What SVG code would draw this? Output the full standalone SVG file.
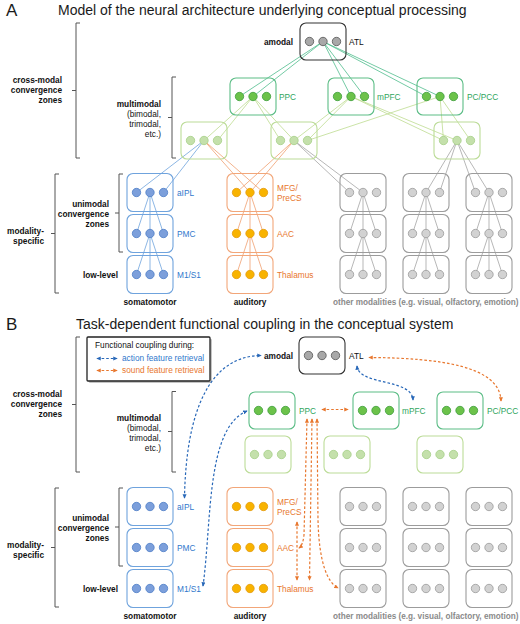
<svg xmlns="http://www.w3.org/2000/svg" width="520" height="624" viewBox="0 0 520 624">
<style>
text{font-family:"Liberation Sans",Arial,Helvetica,sans-serif}
.ttl{font-size:14px;fill:#1a1a1a}
.pl{font-size:17px;fill:#1a1a1a}
.b{font-size:8.3px;font-weight:bold;fill:#111}
.r{font-size:8.3px;fill:#111}
.rt{text-anchor:end}
.lb{font-size:8.3px;fill:#2f78cc}
.lo{font-size:8.3px;fill:#e8772e}
.lg{font-size:8.3px;fill:#2ea55c}
.lk{font-size:8.3px;fill:#111}
.gray{font-size:8.2px;font-weight:bold;fill:#8a8a8a}
.br{fill:none;stroke:#555;stroke-width:1}
rect{fill:none;stroke-width:1.1}
.kA{stroke:#333}
.kM{stroke:#5cbd86}
.kL{stroke:#bcdc98}
.kS{stroke:#6fa3dd}
.kO{stroke:#f2a679}
.kG{stroke:#9c9c9c}
circle{stroke-width:0.8}
.dA{fill:#a8a8a8;stroke:#555}
.dM{fill:#6cc24a;stroke:#3f9e3c}
.dL{fill:#c4e0ab;stroke:#a6cf88}
.dS{fill:#7c9fdb;stroke:#4f7fc7}
.dO{fill:#f8b300;stroke:#e39a10}
.dG{fill:#d2d2d2;stroke:#9a9a9a}
.cA{stroke:#4fbd8d;stroke-width:0.8;fill:none}
.cL{stroke:#bedc90;stroke-width:0.8;fill:none}
.cS{stroke:#6fa3dd;stroke-width:0.8;fill:none}
.cO{stroke:#f0a070;stroke-width:0.8;fill:none}
.cG{stroke:#a4a4a4;stroke-width:0.8;fill:none}
.db{stroke:#2767b8;stroke-width:1.2;stroke-dasharray:2.6 2;fill:none;marker-start:url(#mb);marker-end:url(#mb)}
.do{stroke:#e8772e;stroke-width:1.2;stroke-dasharray:2.6 2;fill:none;marker-start:url(#mo);marker-end:url(#mo)}
</style>
<defs>
<marker id="mb" viewBox="0 0 6 6" refX="5" refY="3" markerWidth="4.5" markerHeight="4.5" markerUnits="userSpaceOnUse" orient="auto-start-reverse"><path d="M0,0.3 L6,3 L0,5.7z" fill="#2767b8"/></marker>
<marker id="mo" viewBox="0 0 6 6" refX="5" refY="3" markerWidth="4.5" markerHeight="4.5" markerUnits="userSpaceOnUse" orient="auto-start-reverse"><path d="M0,0.3 L6,3 L0,5.7z" fill="#e8772e"/></marker>
</defs>

<!-- ================= PANEL A ================= -->
<g id="titleA">
<text x="6" y="16" class="pl">A</text>
<text x="58" y="15" class="ttl">Model of the neural architecture underlying conceptual processing</text>
</g>

<g id="bracesA">
<path class="br" d="M80,23 H76 V158 H80 M76,90.5 H72"/>
<path class="br" d="M176,77 H172 V158 H176 M172,117.5 H168"/>
<path class="br" d="M59,174 H55 V293 H59 M55,233.5 H51"/>
<path class="br" d="M123,174 H119 V252 H123 M119,213 H115"/>
<text class="b rt" x="62" y="83">cross-modal</text>
<text class="b rt" x="62" y="93">convergence</text>
<text class="b rt" x="62" y="103">zones</text>
<text class="b rt" x="161" y="107">multimodal</text>
<text class="r rt" x="161" y="117">(bimodal,</text>
<text class="r rt" x="161" y="127">trimodal,</text>
<text class="r rt" x="161" y="137">etc.)</text>
<text class="b rt" x="44" y="234">modality-</text>
<text class="b rt" x="44" y="244">specific</text>
<text class="b rt" x="109" y="207">unimodal</text>
<text class="b rt" x="109" y="217">convergence</text>
<text class="b rt" x="109" y="227">zones</text>
<text class="b rt" x="118" y="278">low-level</text>
<text class="b" x="150" y="305" text-anchor="middle">somatomotor</text>
<text class="b" x="250" y="305" text-anchor="middle">auditory</text>
<text class="gray" x="333" y="305">other modalities (e.g. visual, olfactory, emotion)</text>
</g>

<g id="connectorsA">
<path class="cA" d="M323,41.5 L239.5,96.5 M323,41.5 L253,96.5 M323,41.5 L351,96.5 M323,41.5 L364.5,96.5 M323,41.5 L426.5,96.5 M323,41.5 L440,96.5"/>
<path class="cL" d="M253,96.5 L204,140.5 M253,96.5 L217.5,140.5 M253,96.5 L280.5,140.5 M253,96.5 L294,140.5 M351,96.5 L294,140.5 M351,96.5 L307.5,140.5 M351,96.5 L443.5,140.5 M351,96.5 L457,140.5 M440,96.5 L307.5,140.5 M440,96.5 L443.5,140.5 M440,96.5 L470.5,140.5"/>
<path class="cS" d="M204,140.5 L136.5,192.5 M204,140.5 L163.5,192.5 M150,192.5 L136.5,233.5 M150,192.5 L150,233.5 M150,192.5 L163.5,233.5 M150,233.5 L136.5,274.5 M150,233.5 L150,274.5 M150,233.5 L163.5,274.5"/>
<path class="cO" d="M204,140.5 L250,192.5 M204,140.5 L263.5,192.5 M294,140.5 L236.5,192.5 M294,140.5 L250,192.5 M250,192.5 L236.5,233.5 M250,192.5 L250,233.5 M250,192.5 L263.5,233.5 M250,233.5 L236.5,274.5 M250,233.5 L250,274.5 M250,233.5 L263.5,274.5"/>
<path class="cG" d="M294,140.5 L349.5,192.5 M294,140.5 L363,192.5 M457,140.5 L426,192.5 M457,140.5 L439.5,192.5 M457,140.5 L475.5,192.5 M457,140.5 L489,192.5
M363,192.5 L349.5,233.5 M363,192.5 L363,233.5 M363,192.5 L376.5,233.5 M363,233.5 L349.5,274.5 M363,233.5 L363,274.5 M363,233.5 L376.5,274.5
M426,192.5 L412.5,233.5 M426,192.5 L426,233.5 M426,192.5 L439.5,233.5 M426,233.5 L412.5,274.5 M426,233.5 L426,274.5 M426,233.5 L439.5,274.5
M489,192.5 L475.5,233.5 M489,192.5 L489,233.5 M489,192.5 L502.5,233.5 M489,233.5 L475.5,274.5 M489,233.5 L489,274.5 M489,233.5 L502.5,274.5"/>
</g>

<g id="A-ATL"><rect class="kA" x="300" y="23" width="46" height="37" rx="6"/><circle class="dA" cx="309.5" cy="41.5" r="4.2"/><circle class="dA" cx="323" cy="41.5" r="4.2"/><circle class="dA" cx="336.5" cy="41.5" r="4.2"/><text class="b rt" x="293" y="45">amodal</text><text class="lk" x="349" y="45">ATL</text></g>
<g id="A-PPC"><rect class="kM" x="230" y="78" width="46" height="37" rx="6"/><circle class="dM" cx="239.5" cy="96.5" r="4.2"/><circle class="dM" cx="253" cy="96.5" r="4.2"/><circle class="dM" cx="266.5" cy="96.5" r="4.2"/><text class="lg" x="279" y="100">PPC</text></g>
<g id="A-mPFC"><rect class="kM" x="328" y="78" width="46" height="37" rx="6"/><circle class="dM" cx="337.5" cy="96.5" r="4.2"/><circle class="dM" cx="351" cy="96.5" r="4.2"/><circle class="dM" cx="364.5" cy="96.5" r="4.2"/><text class="lg" x="377" y="100">mPFC</text></g>
<g id="A-PCPCC"><rect class="kM" x="417" y="78" width="46" height="37" rx="6"/><circle class="dM" cx="426.5" cy="96.5" r="4.2"/><circle class="dM" cx="440" cy="96.5" r="4.2"/><circle class="dM" cx="453.5" cy="96.5" r="4.2"/><text class="lg" x="467" y="100">PC/PCC</text></g>
<g id="A-mm1"><rect class="kL" x="181" y="122" width="46" height="37" rx="6"/><circle class="dL" cx="190.5" cy="140.5" r="4.2"/><circle class="dL" cx="204" cy="140.5" r="4.2"/><circle class="dL" cx="217.5" cy="140.5" r="4.2"/></g>
<g id="A-mm2"><rect class="kL" x="271" y="122" width="46" height="37" rx="6"/><circle class="dL" cx="280.5" cy="140.5" r="4.2"/><circle class="dL" cx="294" cy="140.5" r="4.2"/><circle class="dL" cx="307.5" cy="140.5" r="4.2"/></g>
<g id="A-mm3"><rect class="kL" x="434" y="122" width="46" height="37" rx="6"/><circle class="dL" cx="443.5" cy="140.5" r="4.2"/><circle class="dL" cx="457" cy="140.5" r="4.2"/><circle class="dL" cx="470.5" cy="140.5" r="4.2"/></g>

<g id="A-aIPL"><rect class="kS" x="127" y="173.5" width="46" height="38" rx="6"/><circle class="dS" cx="136.5" cy="192.5" r="4.2"/><circle class="dS" cx="150" cy="192.5" r="4.2"/><circle class="dS" cx="163.5" cy="192.5" r="4.2"/><text class="lb" x="177" y="196">aIPL</text></g>
<g id="A-PMC"><rect class="kS" x="127" y="214.5" width="46" height="38" rx="6"/><circle class="dS" cx="136.5" cy="233.5" r="4.2"/><circle class="dS" cx="150" cy="233.5" r="4.2"/><circle class="dS" cx="163.5" cy="233.5" r="4.2"/><text class="lb" x="177" y="237">PMC</text></g>
<g id="A-M1S1"><rect class="kS" x="127" y="255.5" width="46" height="38" rx="6"/><circle class="dS" cx="136.5" cy="274.5" r="4.2"/><circle class="dS" cx="150" cy="274.5" r="4.2"/><circle class="dS" cx="163.5" cy="274.5" r="4.2"/><text class="lb" x="177" y="278">M1/S1</text></g>
<g id="A-MFG"><rect class="kO" x="227" y="173.5" width="46" height="38" rx="6"/><circle class="dO" cx="236.5" cy="192.5" r="4.2"/><circle class="dO" cx="250" cy="192.5" r="4.2"/><circle class="dO" cx="263.5" cy="192.5" r="4.2"/><text class="lo" x="277" y="191">MFG/</text><text class="lo" x="277" y="201">PreCS</text></g>
<g id="A-AAC"><rect class="kO" x="227" y="214.5" width="46" height="38" rx="6"/><circle class="dO" cx="236.5" cy="233.5" r="4.2"/><circle class="dO" cx="250" cy="233.5" r="4.2"/><circle class="dO" cx="263.5" cy="233.5" r="4.2"/><text class="lo" x="277" y="237">AAC</text></g>
<g id="A-Thal"><rect class="kO" x="227" y="255.5" width="46" height="38" rx="6"/><circle class="dO" cx="236.5" cy="274.5" r="4.2"/><circle class="dO" cx="250" cy="274.5" r="4.2"/><circle class="dO" cx="263.5" cy="274.5" r="4.2"/><text class="lo" x="277" y="278">Thalamus</text></g>

<g id="A-other1">
<rect class="kG" x="340" y="173.5" width="46" height="38" rx="6"/><rect class="kG" x="340" y="214.5" width="46" height="38" rx="6"/><rect class="kG" x="340" y="255.5" width="46" height="38" rx="6"/>
<circle class="dG" cx="349.5" cy="192.5" r="4.2"/><circle class="dG" cx="363" cy="192.5" r="4.2"/><circle class="dG" cx="376.5" cy="192.5" r="4.2"/>
<circle class="dG" cx="349.5" cy="233.5" r="4.2"/><circle class="dG" cx="363" cy="233.5" r="4.2"/><circle class="dG" cx="376.5" cy="233.5" r="4.2"/>
<circle class="dG" cx="349.5" cy="274.5" r="4.2"/><circle class="dG" cx="363" cy="274.5" r="4.2"/><circle class="dG" cx="376.5" cy="274.5" r="4.2"/>
</g>
<g id="A-other2">
<rect class="kG" x="403" y="173.5" width="46" height="38" rx="6"/><rect class="kG" x="403" y="214.5" width="46" height="38" rx="6"/><rect class="kG" x="403" y="255.5" width="46" height="38" rx="6"/>
<circle class="dG" cx="412.5" cy="192.5" r="4.2"/><circle class="dG" cx="426" cy="192.5" r="4.2"/><circle class="dG" cx="439.5" cy="192.5" r="4.2"/>
<circle class="dG" cx="412.5" cy="233.5" r="4.2"/><circle class="dG" cx="426" cy="233.5" r="4.2"/><circle class="dG" cx="439.5" cy="233.5" r="4.2"/>
<circle class="dG" cx="412.5" cy="274.5" r="4.2"/><circle class="dG" cx="426" cy="274.5" r="4.2"/><circle class="dG" cx="439.5" cy="274.5" r="4.2"/>
</g>
<g id="A-other3">
<rect class="kG" x="466" y="173.5" width="46" height="38" rx="6"/><rect class="kG" x="466" y="214.5" width="46" height="38" rx="6"/><rect class="kG" x="466" y="255.5" width="46" height="38" rx="6"/>
<circle class="dG" cx="475.5" cy="192.5" r="4.2"/><circle class="dG" cx="489" cy="192.5" r="4.2"/><circle class="dG" cx="502.5" cy="192.5" r="4.2"/>
<circle class="dG" cx="475.5" cy="233.5" r="4.2"/><circle class="dG" cx="489" cy="233.5" r="4.2"/><circle class="dG" cx="502.5" cy="233.5" r="4.2"/>
<circle class="dG" cx="475.5" cy="274.5" r="4.2"/><circle class="dG" cx="489" cy="274.5" r="4.2"/><circle class="dG" cx="502.5" cy="274.5" r="4.2"/>
</g>

<!-- ================= PANEL B ================= -->
<g id="titleB">
<text x="6" y="330" class="pl">B</text>
<text x="76" y="329" class="ttl">Task-dependent functional coupling in the conceptual system</text>
</g>

<g id="bracesB">
<path class="br" d="M80,337 H76 V472 H80 M76,404.5 H72"/>
<path class="br" d="M176,391.5 H172 V472 H176 M172,431.5 H168"/>
<path class="br" d="M59,488 H55 V607 H59 M55,547.5 H51"/>
<path class="br" d="M123,488 H119 V566 H123 M119,527 H115"/>
<text class="b rt" x="62" y="397">cross-modal</text>
<text class="b rt" x="62" y="407">convergence</text>
<text class="b rt" x="62" y="417">zones</text>
<text class="b rt" x="161" y="421">multimodal</text>
<text class="r rt" x="161" y="431">(bimodal,</text>
<text class="r rt" x="161" y="441">trimodal,</text>
<text class="r rt" x="161" y="451">etc.)</text>
<text class="b rt" x="44" y="548">modality-</text>
<text class="b rt" x="44" y="558">specific</text>
<text class="b rt" x="109" y="521">unimodal</text>
<text class="b rt" x="109" y="531">convergence</text>
<text class="b rt" x="109" y="541">zones</text>
<text class="b rt" x="118" y="592">low-level</text>
<text class="b" x="150" y="619" text-anchor="middle">somatomotor</text>
<text class="b" x="250" y="619" text-anchor="middle">auditory</text>
<text class="gray" x="333" y="619">other modalities (e.g. visual, olfactory, emotion)</text>
</g>

<g id="legend">
<rect x="89" y="339" width="123" height="44" rx="1" style="fill:#c4c4c4;stroke:none"/>
<rect x="87" y="337" width="123" height="44" rx="1" style="fill:#fff;stroke:#222;stroke-width:1.3"/>
<text class="r" x="95" y="348">Functional coupling during:</text>
<path class="db" d="M97,358.5 L117,358.5"/>
<text class="lb" x="122" y="361">action feature retrieval</text>
<path class="do" d="M97,370.5 L117,370.5"/>
<text class="lo" x="122" y="373">sound feature retrieval</text>
</g>

<g id="connectorsB">
<path class="db" d="M184.5,498 C186,410 210,356 261,355.5"/>
<path class="db" d="M203,586 C212,520 206,428 247,411"/>
<path class="db" d="M357,366 C359,386 412,378 413,400"/>
<path class="do" d="M369,357.5 C440,358 500,366 501,401"/>
<path class="do" d="M322,409.5 L348,409.5"/>
<path class="do" d="M307,419 L304,535 Q303,545 299,548"/>
<path class="do" d="M312,419 L309.5,580"/>
<path class="do" d="M317,419 L318,520 C319,562 327,582 338,588"/>
<path class="do" d="M297,522 L297,580"/>
</g>

<g id="B-ATL"><rect class="kA" x="299" y="337" width="46" height="37" rx="6"/><circle class="dA" cx="308.5" cy="355.5" r="4.2"/><circle class="dA" cx="322" cy="355.5" r="4.2"/><circle class="dA" cx="335.5" cy="355.5" r="4.2"/><text class="b rt" x="293" y="359">amodal</text><text class="lk" x="349" y="359">ATL</text></g>
<g id="B-PPC"><rect class="kM" x="249" y="392" width="46" height="37" rx="6"/><circle class="dM" cx="258.5" cy="410.5" r="4.2"/><circle class="dM" cx="272" cy="410.5" r="4.2"/><circle class="dM" cx="285.5" cy="410.5" r="4.2"/><text class="lg" x="299" y="414">PPC</text></g>
<g id="B-mPFC"><rect class="kM" x="353" y="392" width="46" height="37" rx="6"/><circle class="dM" cx="362.5" cy="410.5" r="4.2"/><circle class="dM" cx="376" cy="410.5" r="4.2"/><circle class="dM" cx="389.5" cy="410.5" r="4.2"/><text class="lg" x="402" y="414">mPFC</text></g>
<g id="B-PCPCC"><rect class="kM" x="437" y="392" width="46" height="37" rx="6"/><circle class="dM" cx="446.5" cy="410.5" r="4.2"/><circle class="dM" cx="460" cy="410.5" r="4.2"/><circle class="dM" cx="473.5" cy="410.5" r="4.2"/><text class="lg" x="487" y="414">PC/PCC</text></g>
<g id="B-mm1"><rect class="kL" x="245" y="436" width="46" height="37" rx="6"/><circle class="dL" cx="254.5" cy="454.5" r="4.2"/><circle class="dL" cx="268" cy="454.5" r="4.2"/><circle class="dL" cx="281.5" cy="454.5" r="4.2"/></g>
<g id="B-mm2"><rect class="kL" x="324" y="436" width="46" height="37" rx="6"/><circle class="dL" cx="333.5" cy="454.5" r="4.2"/><circle class="dL" cx="347" cy="454.5" r="4.2"/><circle class="dL" cx="360.5" cy="454.5" r="4.2"/></g>
<g id="B-mm3"><rect class="kL" x="417" y="436" width="46" height="37" rx="6"/><circle class="dL" cx="426.5" cy="454.5" r="4.2"/><circle class="dL" cx="440" cy="454.5" r="4.2"/><circle class="dL" cx="453.5" cy="454.5" r="4.2"/></g>

<g id="B-aIPL"><rect class="kS" x="127" y="487.5" width="46" height="38" rx="6"/><circle class="dS" cx="136.5" cy="506.5" r="4.2"/><circle class="dS" cx="150" cy="506.5" r="4.2"/><circle class="dS" cx="163.5" cy="506.5" r="4.2"/><text class="lb" x="177" y="510">aIPL</text></g>
<g id="B-PMC"><rect class="kS" x="127" y="528.5" width="46" height="38" rx="6"/><circle class="dS" cx="136.5" cy="547.5" r="4.2"/><circle class="dS" cx="150" cy="547.5" r="4.2"/><circle class="dS" cx="163.5" cy="547.5" r="4.2"/><text class="lb" x="177" y="551">PMC</text></g>
<g id="B-M1S1"><rect class="kS" x="127" y="569.5" width="46" height="38" rx="6"/><circle class="dS" cx="136.5" cy="588.5" r="4.2"/><circle class="dS" cx="150" cy="588.5" r="4.2"/><circle class="dS" cx="163.5" cy="588.5" r="4.2"/><text class="lb" x="177" y="592">M1/S1</text></g>
<g id="B-MFG"><rect class="kO" x="227" y="487.5" width="46" height="38" rx="6"/><circle class="dO" cx="236.5" cy="506.5" r="4.2"/><circle class="dO" cx="250" cy="506.5" r="4.2"/><circle class="dO" cx="263.5" cy="506.5" r="4.2"/><text class="lo" x="277" y="505">MFG/</text><text class="lo" x="277" y="515">PreCS</text></g>
<g id="B-AAC"><rect class="kO" x="227" y="528.5" width="46" height="38" rx="6"/><circle class="dO" cx="236.5" cy="547.5" r="4.2"/><circle class="dO" cx="250" cy="547.5" r="4.2"/><circle class="dO" cx="263.5" cy="547.5" r="4.2"/><text class="lo" x="277" y="551">AAC</text></g>
<g id="B-Thal"><rect class="kO" x="227" y="569.5" width="46" height="38" rx="6"/><circle class="dO" cx="236.5" cy="588.5" r="4.2"/><circle class="dO" cx="250" cy="588.5" r="4.2"/><circle class="dO" cx="263.5" cy="588.5" r="4.2"/><text class="lo" x="277" y="592">Thalamus</text></g>

<g id="B-other1">
<rect class="kG" x="340" y="487.5" width="46" height="38" rx="6"/><rect class="kG" x="340" y="528.5" width="46" height="38" rx="6"/><rect class="kG" x="340" y="569.5" width="46" height="38" rx="6"/>
<circle class="dG" cx="349.5" cy="506.5" r="4.2"/><circle class="dG" cx="363" cy="506.5" r="4.2"/><circle class="dG" cx="376.5" cy="506.5" r="4.2"/>
<circle class="dG" cx="349.5" cy="547.5" r="4.2"/><circle class="dG" cx="363" cy="547.5" r="4.2"/><circle class="dG" cx="376.5" cy="547.5" r="4.2"/>
<circle class="dG" cx="349.5" cy="588.5" r="4.2"/><circle class="dG" cx="363" cy="588.5" r="4.2"/><circle class="dG" cx="376.5" cy="588.5" r="4.2"/>
</g>
<g id="B-other2">
<rect class="kG" x="403" y="487.5" width="46" height="38" rx="6"/><rect class="kG" x="403" y="528.5" width="46" height="38" rx="6"/><rect class="kG" x="403" y="569.5" width="46" height="38" rx="6"/>
<circle class="dG" cx="412.5" cy="506.5" r="4.2"/><circle class="dG" cx="426" cy="506.5" r="4.2"/><circle class="dG" cx="439.5" cy="506.5" r="4.2"/>
<circle class="dG" cx="412.5" cy="547.5" r="4.2"/><circle class="dG" cx="426" cy="547.5" r="4.2"/><circle class="dG" cx="439.5" cy="547.5" r="4.2"/>
<circle class="dG" cx="412.5" cy="588.5" r="4.2"/><circle class="dG" cx="426" cy="588.5" r="4.2"/><circle class="dG" cx="439.5" cy="588.5" r="4.2"/>
</g>
<g id="B-other3">
<rect class="kG" x="466" y="487.5" width="46" height="38" rx="6"/><rect class="kG" x="466" y="528.5" width="46" height="38" rx="6"/><rect class="kG" x="466" y="569.5" width="46" height="38" rx="6"/>
<circle class="dG" cx="475.5" cy="506.5" r="4.2"/><circle class="dG" cx="489" cy="506.5" r="4.2"/><circle class="dG" cx="502.5" cy="506.5" r="4.2"/>
<circle class="dG" cx="475.5" cy="547.5" r="4.2"/><circle class="dG" cx="489" cy="547.5" r="4.2"/><circle class="dG" cx="502.5" cy="547.5" r="4.2"/>
<circle class="dG" cx="475.5" cy="588.5" r="4.2"/><circle class="dG" cx="489" cy="588.5" r="4.2"/><circle class="dG" cx="502.5" cy="588.5" r="4.2"/>
</g>
</svg>
